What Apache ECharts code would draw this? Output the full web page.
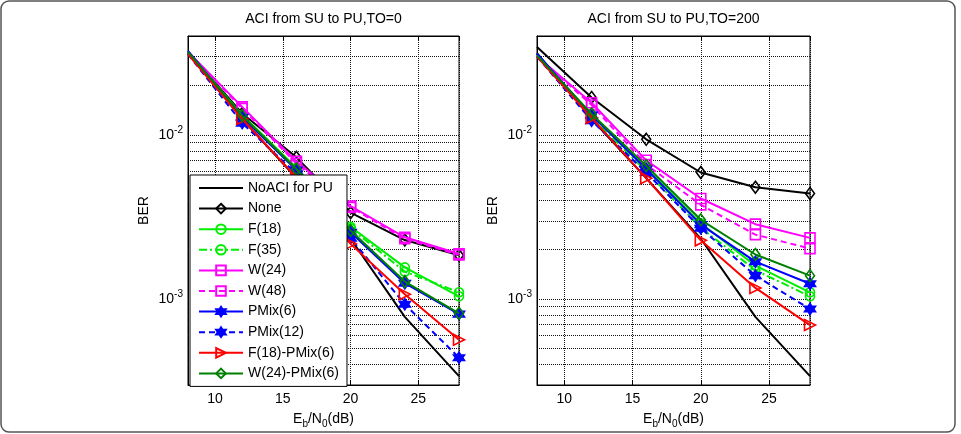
<!DOCTYPE html>
<html>
<head>
<meta charset="utf-8">
<script src="https://cdn.jsdelivr.net/npm/echarts@6/dist/echarts.min.js"></script>
<style>
html, body { margin: 0; padding: 0; background: #fff; }
#main { width: 961px; height: 434px; }
</style>
</head>
<body>
<div id="main"></div>
<script>
// Eb/N0 points (dB)
var snr = [8, 12, 16, 20, 24, 28];

// theory curve, same in both panels
var noaci = [0.0315, 0.0125, 5.45e-3, 2.33e-3, 7.8e-4, 3.4e-4];

// TO = 0
var none0   = [0.032, 0.0135, 7.3e-3, 3.36e-3, 2.29e-3, 1.85e-3];
var f18_0   = [0.032, 0.0132, 6.3e-3, 2.76e-3, 1.56e-3, 1.04e-3];
var f35_0   = [0.032, 0.0130, 6.2e-3, 2.70e-3, 1.47e-3, 1.10e-3];
var w24_0   = [0.032, 0.0148, 6.9e-3, 3.69e-3, 2.38e-3, 1.89e-3];
var w48_0   = [0.032, 0.0145, 6.7e-3, 3.62e-3, 2.33e-3, 1.86e-3];
var pm6_0   = [0.0325, 0.0128, 6.1e-3, 2.55e-3, 1.25e-3, 8.1e-4];
var pm12_0  = [0.031, 0.0118, 5.8e-3, 2.35e-3, 9.3e-4, 4.4e-4];
var fpm_0   = [0.031, 0.0125, 5.5e-3, 2.17e-3, 1.07e-3, 5.66e-4];
var wpm_0   = [0.032, 0.0131, 6.2e-3, 2.62e-3, 1.28e-3, 8.2e-4];

// TO = 200
var none200 = [0.0343, 0.0169, 9.4e-3, 5.9e-3, 4.8e-3, 4.4e-3];
var f18_200 = [0.0305, 0.0131, 6.3e-3, 2.90e-3, 1.60e-3, 1.10e-3];
var f35_200 = [0.0305, 0.0128, 6.0e-3, 2.72e-3, 1.50e-3, 1.04e-3];
var w24_200 = [0.030, 0.0157, 7.0e-3, 4.10e-3, 2.86e-3, 2.36e-3];
var w48_200 = [0.030, 0.0152, 6.6e-3, 3.75e-3, 2.47e-3, 2.03e-3];
var pm6_200 = [0.0312, 0.0132, 6.2e-3, 2.84e-3, 1.69e-3, 1.24e-3];
var pm12_200 = [0.030, 0.0122, 5.9e-3, 2.70e-3, 1.39e-3, 8.7e-4];
var fpm_200 = [0.030, 0.0127, 5.45e-3, 2.28e-3, 1.17e-3, 6.95e-4];
var wpm_200 = [0.0305, 0.0134, 6.5e-3, 3.04e-3, 1.87e-3, 1.39e-3];

// log grid lines
var gridVals = [4e-4, 5e-4, 6e-4, 7e-4, 8e-4, 9e-4, 1e-3, 2e-3, 3e-3, 4e-3, 5e-3, 6e-3, 7e-3, 8e-3, 9e-3, 1e-2, 2e-2, 3e-2];
var titles = ['ACI from SU to PU,TO=0', 'ACI from SU to PU,TO=200'];
var names = ['NoACI for PU', 'None', 'F(18)', 'F(35)', 'W(24)', 'W(48)', 'PMix(6)', 'PMix(12)', 'F(18)-PMix(6)', 'W(24)-PMix(6)'];

var FONT = '"Liberation Sans", Arial, Helvetica, sans-serif';
var star = 'path://M0,-10L2.9,-5L8.66,-5L5.8,0L8.66,5L2.9,5L0,10L-2.9,5L-8.66,5L-5.8,0L-8.66,-5L-2.9,-5Z';

// style per curve, same order as names
var styles = [
	{ color: '#000000', symbol: 'none' },
	{ color: '#000000', symbol: 'diamond', size: [9, 12] },
	{ color: '#00ee00', symbol: 'circle', size: 9 },
	{ color: '#00ee00', symbol: 'circle', size: 9, type: [8, 3, 2, 3] },
	{ color: '#ff00ff', symbol: 'rect', size: 10 },
	{ color: '#ff00ff', symbol: 'rect', size: 10, type: [6, 4] },
	{ color: '#0000ff', symbol: star, size: 11, filled: true },
	{ color: '#0000ff', symbol: star, size: 11, filled: true, type: [6, 4] },
	{ color: '#ff0000', symbol: 'triangle', size: 11, rotate: -90 },
	{ color: '#008000', symbol: 'diamond', size: [9, 12] }
];

var panel0 = [noaci, none0, f18_0, f35_0, w24_0, w48_0, pm6_0, pm12_0, fpm_0, wpm_0];
var panel1 = [noaci, none200, f18_200, f35_200, w24_200, w48_200, pm6_200, pm12_200, fpm_200, wpm_200];

var gridLine = { color: '#111', width: 1, type: [1, 1] };

function makeSeries(vals, idx, gi) {
	var st = styles[idx];
	var data = [];
	for (var i = 0; i < snr.length; i++) {
		data.push({
			value: [snr[i], vals[i]],
			symbol: i === 0 ? 'none' : st.symbol
		});
	}
	var s = {
		name: names[idx],
		type: 'line',
		xAxisIndex: gi * 2,
		yAxisIndex: gi,
		data: data,
		symbol: st.symbol,
		symbolSize: st.size || 8,
		symbolRotate: st.rotate || 0,
		showSymbol: st.symbol !== 'none',
		animation: false,
		z: 3 + idx,
		lineStyle: { color: st.color, width: 2, type: st.type || 'solid' },
		itemStyle: {
			color: st.filled ? st.color : 'rgba(255,255,255,0)',
			borderColor: st.color,
			borderWidth: 1.6
		}
	};
	if (idx === 0) {
		// log grid hangs on the first curve
		var lines = [];
		for (var j = 0; j < gridVals.length; j++) {
			lines.push({ yAxis: gridVals[j] });
		}
		s.markLine = {
			silent: true,
			symbol: 'none',
			label: { show: false },
			animation: false,
			precision: 6,
			lineStyle: gridLine,
			data: lines
		};
	}
	return s;
}

function xAxes(gi) {
	var common = {
		type: 'value',
		gridIndex: gi,
		min: 8,
		max: 28,
		axisLine: { show: true, lineStyle: { color: '#000' } },
		axisTick: { show: true, inside: true, length: 5, lineStyle: { color: '#000' } }
	};
	var bottom = echarts.util.merge({
		position: 'bottom',
		name: 'E{sub|b}/N{sub|0}(dB)',
		nameLocation: 'middle',
		nameGap: 24,
		nameTextStyle: {
			color: '#000', fontSize: 14, fontFamily: FONT,
			rich: { sub: { fontSize: 10, fontFamily: FONT, color: '#000', padding: [10, 0, 0, 0] } }
		},
		axisLabel: { color: '#000', fontSize: 14, fontFamily: FONT, margin: 7, showMinLabel: false, showMaxLabel: false },
		splitLine: { show: true, lineStyle: gridLine }
	}, common, true);
	var top = echarts.util.merge({
		position: 'top',
		axisLabel: { show: false },
		splitLine: { show: false }
	}, common, true);
	return [bottom, top];
}

function yAxis(gi) {
	return {
		type: 'log',
		logBase: 10,
		gridIndex: gi,
		min: 3e-4,
		max: 4e-2,
		name: 'BER',
		nameLocation: 'middle',
		nameGap: 37,
		nameRotate: 90,
		nameTextStyle: { color: '#000', fontSize: 14, fontFamily: FONT },
		axisLine: { show: true, lineStyle: { color: '#000' } },
		axisTick: { show: false },
		splitLine: { show: false },
		axisLabel: {
			margin: 5,
			formatter: function(v) {
				var e = Math.log(v) / Math.LN10;
				if (Math.abs(e - Math.round(e)) > 1e-6) {
					return '';
				}
				return '{b|10}{s|' + Math.round(e) + '}';
			},
			rich: {
				b: { fontSize: 14, fontFamily: FONT, color: '#000' },
				s: { fontSize: 10, fontFamily: FONT, color: '#000', padding: [0, 0, 10, 0] }
			}
		}
	};
}

var series = [];
for (var k = 0; k < names.length; k++) {
	series.push(makeSeries(panel0[k], k, 0));
}
for (var k = 0; k < names.length; k++) {
	series.push(makeSeries(panel1[k], k, 1));
}

var legendData = [];
for (var k = 0; k < names.length; k++) {
	legendData.push(k === 0 ? { name: names[k], itemStyle: { opacity: 0 } } : names[k]);
}

var option = {
	backgroundColor: '#fff',
	animation: false,
	textStyle: { fontFamily: FONT },
	title: [{
		text: titles[0], left: 323.5, top: 12, textAlign: 'center', padding: 0,
		textStyle: { color: '#000', fontSize: 14, fontWeight: 'normal', fontFamily: FONT }
	}, {
		text: titles[1], left: 673.5, top: 12, textAlign: 'center', padding: 0,
		textStyle: { color: '#000', fontSize: 14, fontWeight: 'normal', fontFamily: FONT }
	}],
	grid: [
		{ left: 188, top: 36, width: 271, height: 355, show: true, borderColor: '#000', borderWidth: 1, backgroundColor: 'transparent' },
		{ left: 537, top: 36, width: 273, height: 355, show: true, borderColor: '#000', borderWidth: 1, backgroundColor: 'transparent' }
	],
	legend: {
		data: legendData,
		orient: 'vertical',
		left: 190,
		top: 175,
		padding: [6, 8, 6, 8],
		itemWidth: 44,
		itemHeight: 12,
		itemGap: 6.6,
		backgroundColor: '#fff',
		borderColor: '#000',
		borderWidth: 1,
		borderRadius: 0,
		selectedMode: false,
		z: 20,
		textStyle: { color: '#000', fontSize: 14, fontFamily: FONT, lineHeight: 14 }
	},
	xAxis: xAxes(0).concat(xAxes(1)),
	yAxis: [yAxis(0), yAxis(1)],
	series: series,
	graphic: [{
		type: 'rect',
		silent: true,
		shape: { x: 1, y: 1, width: 954, height: 431, r: 8 },
		style: { fill: 'none', stroke: '#555', lineWidth: 1.5 }
	}]
};

var chart = echarts.init(document.getElementById('main'));
chart.setOption(option);
</script>
</body>
</html>
